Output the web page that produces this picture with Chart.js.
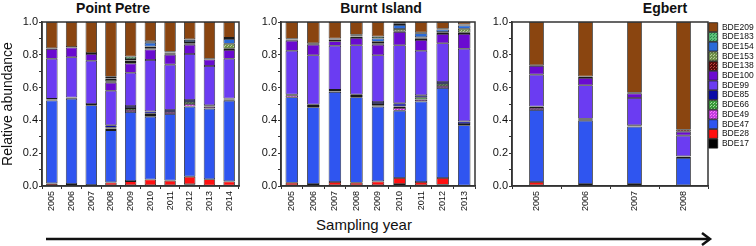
<!DOCTYPE html>
<html>
<head>
<meta charset="utf-8">
<script src="https://cdn.jsdelivr.net/npm/chart.js@4/dist/chart.umd.min.js"></script>
<style>
  body { margin: 0; background: #fff; width: 756px; height: 246px; position: relative; overflow: hidden;
         font-family: 'Liberation Sans', Arial, sans-serif; color: #111; }
  canvas, .ttl, .xlab, svg { position: absolute; }
  .ttl { top: 0; font-size: 14px; line-height: 16px; font-weight: bold; transform: translateX(-50%); white-space: nowrap; }
  .xlab { top: 216px; font-size: 15px; line-height: 18px; transform: translateX(-50%); white-space: nowrap; }
</style>
</head>
<body>
<div class="ttl" style="left:113px">Point Petre</div>
<div class="ttl" style="left:381px">Burnt Island</div>
<div class="ttl" style="left:665px">Egbert</div>
<canvas id="pp" width="245" height="212" style="left:0;top:0"></canvas>
<canvas id="bi" width="235" height="212" style="left:245px;top:0"></canvas>
<canvas id="eg" width="276" height="212" style="left:480px;top:0"></canvas>
<div class="xlab" style="left:364px">Sampling year</div>
<svg width="756" height="246" style="left:0;top:0">
  <line x1="46" y1="239" x2="709" y2="239" stroke="#111" stroke-width="2.5"/>
  <polyline points="702,233 710,239 702,245" fill="none" stroke="#111" stroke-width="2.5"/>
</svg>
<script>
// congeners, bottom of the stack first
const congeners = ['BDE17', 'BDE28', 'BDE47', 'BDE49', 'BDE66', 'BDE85', 'BDE99',
                   'BDE100', 'BDE138', 'BDE153', 'BDE154', 'BDE183', 'BDE209']

const yearsPP = ['2005', '2006', '2007', '2008', '2009', '2010', '2011', '2012', '2013', '2014']
const yearsBI = ['2005', '2006', '2007', '2008', '2009', '2010', '2011', '2012', '2013']
const yearsEG = ['2005', '2006', '2007', '2008']

// one row per congener (same order as above), one value per year
const pointPetre = [
  [.004, .003, .002, .005, .005, .005, .004, .010, .003, .003],
  [.012, .009, .004, .017, .025, .035, .029, .047, .038, .025],
  [.505, .520, .486, .319, .421, .383, .406, .427, .431, .492],
  [.007, .006, .002, .009, .012, .010, .012, .016, .012, .008],
  [0, 0, 0, .005, .012, .007, 0, .012, 0, 0],
  [.003, .002, .006, .015, .013, .015, .012, .012, .008, .005],
  [.245, .245, .264, .211, .203, .313, .277, .281, .240, .243],
  [.060, .060, .041, .049, .057, .065, .060, .057, .040, .053],
  [.003, .003, .006, .006, .008, .007, .009, .008, .004, .008],
  [0, 0, 0, .010, .010, .010, .003, .008, 0, .030],
  [0, 0, 0, .010, .008, .024, .003, .012, 0, .030],
  [0, 0, 0, .010, .015, .008, .003, .004, 0, .006],
  [.161, .152, .189, .334, .211, .118, .182, .106, .224, .097]
]

const burntIsland = [
  [.004, .004, .004, .004, .005, .012, .004, .008, .001],
  [.016, .008, .020, .016, .023, .037, .020, .041, .002],
  [.521, .468, .549, .521, .456, .410, .492, .549, .367],
  [.012, .008, .003, .008, .008, .017, .012, .012, .008],
  [0, 0, 0, 0, .008, .008, .013, .012, 0],
  [.004, .008, .010, .008, .012, .020, .012, .012, .016],
  [.268, .301, .269, .301, .285, .354, .272, .236, .443],
  [.061, .065, .028, .044, .065, .081, .065, .057, .090],
  [.006, .008, .008, .008, .008, .004, .008, .008, .008],
  [.003, 0, .003, .003, .010, .014, .008, .004, .024],
  [0, 0, .005, .006, .020, .025, .025, .016, .020],
  [.003, 0, 0, .003, .012, .008, .004, .004, .006],
  [.102, .130, .101, .078, .088, .010, .065, .041, .015]
]

const egbert = [
  [.004, .004, .004, .002],
  [.020, .008, .008, .002],
  [.439, .386, .350, .167],
  [.013, .009, .002, .008],
  [0, 0, 0, 0],
  [.008, .003, .006, .002],
  [.195, .204, .167, .126],
  [.053, .045, .028, .024],
  [.004, .008, .004, .012],
  [0, 0, 0, 0],
  [0, 0, 0, 0],
  [0, 0, 0, 0],
  [.264, .333, .431, .657]
]

// small dotted fill like the original hatched swatches
const dots = (base, dot) => {
  const c = document.createElement('canvas')
  c.width = 3; c.height = 3
  const g = c.getContext('2d')
  g.fillStyle = base
  g.fillRect(0, 0, 3, 3)
  g.fillStyle = dot
  g.fillRect(0, 0, 1, 1)
  g.fillRect(2, 1, 1, 1)
  return g.createPattern(c, 'repeat')
}

const fills = [
  '#000000',
  '#ff1010',
  '#2f55f0',
  dots('#c23ee0', '#ff70ff'),
  dots('#3a9a3a', '#a0dca0'),
  '#0a0aa8',
  '#6b3cf2',
  '#6a0ad0',
  dots('#5a0a0a', '#c04040'),
  dots('#6f8f4a', '#b8cf98'),
  '#2a6ad8',
  dots('#5cc07a', '#2a8a4a'),
  '#8a4510'
]

Chart.defaults.font.family = "'Liberation Sans', Arial, sans-serif"
Chart.defaults.color = '#111'

// box around the plot area
const frame = {
  id: 'frame',
  afterDraw: chart => {
    const {ctx, chartArea: a} = chart
    ctx.save()
    ctx.strokeStyle = '#333'
    ctx.lineWidth = 1.5
    ctx.strokeRect(a.left, a.top, a.right - a.left, a.bottom - a.top)
    ctx.restore()
  }
}

const makeChart = (id, years, rows, opts) => {
  const datasets = congeners.map((name, i) => ({
    label: name,
    data: rows[i],
    backgroundColor: fills[i],
    borderColor: '#1a1a1a',
    borderWidth: 0.8,
    borderSkipped: false,
    categoryPercentage: opts.cat,
    barPercentage: 1
  }))

  return new Chart(document.getElementById(id), {
    type: 'bar',
    data: { labels: years, datasets: datasets },
    plugins: [frame],
    options: {
      responsive: false,
      animation: false,
      layout: { padding: { top: 22, right: opts.right, left: 0, bottom: 0 } },
      plugins: {
        tooltip: { enabled: false },
        legend: opts.legend ? {
          display: true,
          position: 'right',
          align: 'start',
          reverse: true,
          maxWidth: 48,
          labels: { boxWidth: 9, boxHeight: 9, padding: 0.7, font: { size: 8.5 }, color: '#111' }
        } : { display: false }
      },
      scales: {
        x: {
          stacked: true,
          grid: { drawOnChartArea: false, tickLength: 3, color: '#333' },
          border: { color: '#333', width: 1.5 },
          ticks: { autoSkip: false, minRotation: 90, maxRotation: 90, padding: 2, font: { size: 9 } },
          afterFit: s => { s.height = 26 }
        },
        y: {
          stacked: true,
          min: 0,
          max: 1,
          grid: { drawOnChartArea: false, tickLength: 3, color: '#333' },
          border: { color: '#333', width: 1.5 },
          ticks: {
            stepSize: 0.1,
            autoSkip: false,
            padding: 1,
            font: { size: 11 },
            callback: (v, i) => i % 2 === 0 ? v.toFixed(1) : ''
          },
          title: opts.yTitle ? {
            display: true,
            text: 'Relative abundance',
            font: { size: 14 },
            padding: 0
          } : { display: false },
          afterFit: s => { s.width = opts.yWidth }
        }
      }
    }
  })
}

makeChart('pp', yearsPP, pointPetre, { cat: 0.58, right: 6, yWidth: 42, yTitle: true })
makeChart('bi', yearsBI, burntIsland, { cat: 0.58, right: 5, yWidth: 36 })
makeChart('eg', yearsEG, egbert, { cat: 0.3, right: 0, yWidth: 32, legend: true })
</script>
</body>
</html>
